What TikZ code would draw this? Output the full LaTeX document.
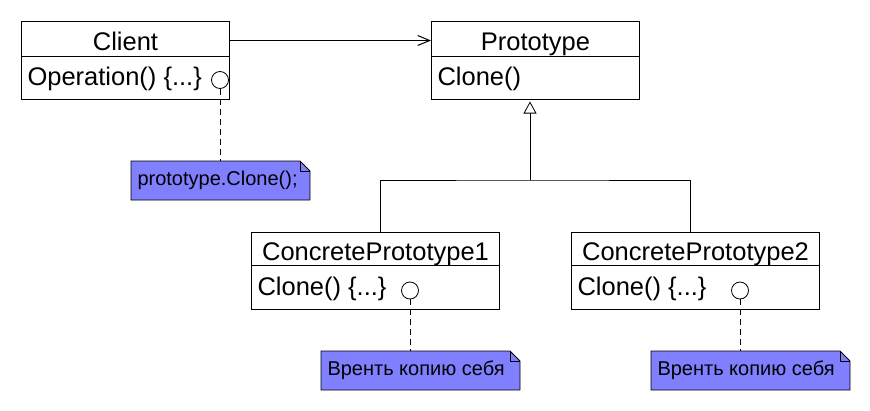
\documentclass[tikz,border=0pt]{standalone}
\usepackage{fontspec}
\setmainfont{Liberation Sans}
\usetikzlibrary{arrows.meta}
\definecolor{notefill}{RGB}{128,128,255}
\begin{document}
\begin{tikzpicture}[x=1pt,y=-1pt,line width=1pt,
  cls/.style={draw, inner sep=0pt, anchor=north west},
  wide/.style={minimum width=208pt, minimum height=78pt},
  wider/.style={minimum width=248pt, minimum height=77pt},
  ttl/.style={font=\fontsize{25.5}{30}\selectfont, anchor=base, inner sep=0pt},
  op/.style={font=\fontsize{25.5}{30}\selectfont, anchor=base west, inner sep=0pt},
  notebox/.style={inner sep=0pt, anchor=north west, minimum width=198pt, minimum height=38pt},
  ntext/.style={font=\fontsize{20}{24}\selectfont, anchor=base west, inner sep=0pt},
  hook/.style={draw, circle, fill=white, minimum size=17pt, inner sep=0pt, line width=0.8pt},
  link/.style={line width=0.8pt, dash pattern=on 6pt off 4pt}]
\useasboundingbox (0,0) rectangle (870,410);

% classes
\node[cls, wide] (client) at (21,21) {};
\node[cls, wide] (proto) at (431,21) {};
\node[cls, wider] (cp1) at (251,232) {};
\node[cls, wider] (cp2) at (571,232) {};

\foreach \c/\d in {client/35,proto/35,cp1/33,cp2/33}
  \draw ([yshift=-\d pt]\c.north west) -- ([yshift=-\d pt]\c.north east);

\node[ttl] (clientT) at ([yshift=-29pt]client.north) {Client};
\node[op] (clientO) at ([xshift=6pt,yshift=-64pt]client.north west) {Operation() \{...\}};
\node[ttl] (protoT) at ([yshift=-29pt]proto.north) {Prototype};
\node[op] (protoO) at ([xshift=6pt,yshift=-64pt]proto.north west) {Clone()};
\node[ttl] (cp1T) at ([yshift=-28pt]cp1.north) {ConcretePrototype1};
\node[op] (cp1O) at ([xshift=6pt,yshift=-63pt]cp1.north west) {Clone() \{...\}};
\node[ttl] (cp2T) at ([yshift=-28pt]cp2.north) {ConcretePrototype2};
\node[op] (cp2O) at ([xshift=6pt,yshift=-63pt]cp2.north west) {Clone() \{...\}};

% association
\draw[-{Straight Barb[length=12pt,width=10pt]}] ([yshift=20pt]client.east) -- ([yshift=20pt]proto.west);

% generalization
\coordinate (j) at (530,180);
\draw ([xshift=129pt]cp1.north west) |- (j) -| ([xshift=119pt]cp2.north west);
\draw[-{Triangle[open,length=12pt,width=13pt,line width=0.8pt]}, shorten >=1.5pt] (j) -- (j |- proto.south);

% notes
\node[hook] (c1) at (220,80) {};
\node[hook] (c2) at (410,290.5) {};
\node[hook] (c3) at (740,290.5) {};
\node[notebox, minimum width=178pt] (n1) at (131,161) {};
\node[notebox] (n2) at (321,351) {};
\node[notebox] (n3) at (651,351) {};
\foreach \n in {n1,n2,n3} {
  \filldraw[fill=notefill, line width=0.8pt] (\n.north west) -- ([xshift=-10pt]\n.north east) -- ([yshift=-10pt]\n.north east) -- (\n.south east) -- (\n.south west) -- cycle;
  \draw[line width=0.8pt] ([xshift=-10pt]\n.north east) -- ([xshift=-10pt,yshift=-10pt]\n.north east) -- ([yshift=-10pt]\n.north east);
}
\node[ntext] (n1t) at ([xshift=6pt,yshift=-24pt]n1.north west) {prototype.Clone();};
\node[ntext] (n2t) at ([xshift=6pt,yshift=-24pt]n2.north west) {Вренть копию себя};
\node[ntext] (n3t) at ([xshift=6pt,yshift=-24pt]n3.north west) {Вренть копию себя};

\draw[link] (c1.south) -- (c1.south |- n1.north);
\draw[link] (c2.south) -- (c2.south |- n2.north);
\draw[link] (c3.south) -- (c3.south |- n3.north);
\end{tikzpicture}
\end{document}
